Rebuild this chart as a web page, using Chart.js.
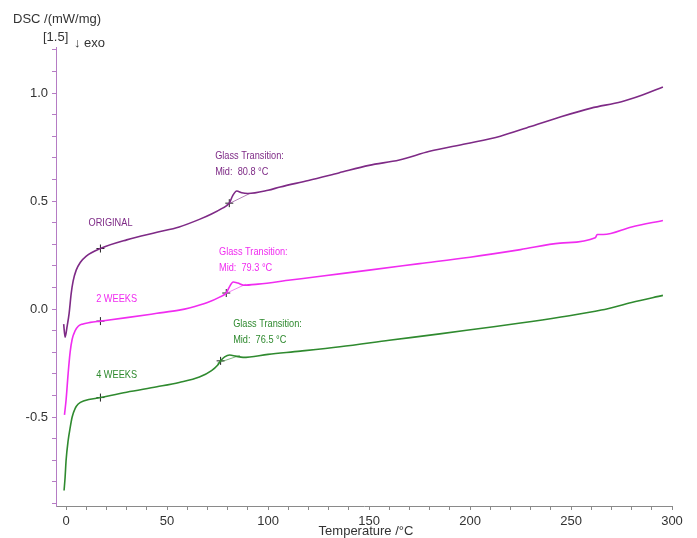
<!DOCTYPE html>
<html>
<head>
<meta charset="utf-8">
<script src="https://cdn.jsdelivr.net/npm/chart.js@4"></script>
<style>
  html, body { margin: 0; padding: 0; background: #fff; }
  #wrap { width: 697px; height: 538px; }
</style>
</head>
<body>
<div id="wrap"><canvas id="dsc" width="697" height="538"></canvas></div>
<script>
// Curvas DSC (temperatura °C / señal mW/mg)
var tempOriginal = [-1.2, -0.5, 0.5, 1.5, 2.5, 3.5, 5, 7, 10, 17, 30, 45, 56, 66, 72, 77, 80.8, 82.5, 84.5, 87, 90, 100, 106, 120, 135, 150, 165, 180, 198, 215, 230, 245, 260, 275, 285, 295.5];
var dscOriginal = [-0.07, -0.13, -0.08, -0.02, 0.07, 0.13, 0.18, 0.215, 0.245, 0.28, 0.32, 0.355, 0.38, 0.415, 0.44, 0.465, 0.49, 0.525, 0.546, 0.538, 0.535, 0.55, 0.565, 0.595, 0.63, 0.665, 0.69, 0.73, 0.765, 0.80, 0.845, 0.89, 0.93, 0.96, 0.99, 1.028];

var temp2Weeks = [-0.8, 0, 1, 2, 3, 4.5, 6, 8, 12, 17, 30, 45, 56, 61, 70, 76, 79.3, 81, 82.7, 85, 88, 95, 111, 127, 150, 175, 200, 225, 244.6, 262, 263, 266, 280, 295.5];
var dsc2Weeks = [-0.49, -0.42, -0.3, -0.2, -0.14, -0.10, -0.08, -0.07, -0.062, -0.056, -0.04, -0.02, -0.005, 0.005, 0.03, 0.055, 0.074, 0.105, 0.125, 0.12, 0.11, 0.115, 0.134, 0.153, 0.18, 0.21, 0.24, 0.275, 0.305, 0.33, 0.345, 0.345, 0.38, 0.41];

var temp4Weeks = [-1, -0.5, 0, 1, 2, 3, 4.5, 6, 9, 17, 30, 45, 56, 66, 72, 75, 76.5, 78.5, 81, 84, 87.6, 100, 116, 135.6, 160, 185, 205, 225, 245, 265, 280, 295.5];
var dsc4Weeks = [-0.84, -0.78, -0.70, -0.61, -0.55, -0.50, -0.46, -0.44, -0.425, -0.41, -0.385, -0.36, -0.34, -0.315, -0.285, -0.26, -0.24, -0.222, -0.213, -0.218, -0.224, -0.21, -0.195, -0.175, -0.145, -0.115, -0.09, -0.065, -0.037, -0.005, 0.03, 0.063];

// Marcas "+" (inicio de evaluación y punto medio de la transición vítrea)
var marcasTemp = [17, 80.8, 17, 79.3, 17, 76.5];
var marcasDsc = [0.28, 0.49, -0.056, 0.074, -0.41, -0.24];

// Tangentes finas de la evaluación de Tg (inicio y fin de cada segmento)
var tangTemp = [[79, 91], [77.5, 89], [75, 86]];
var tangDsc = [[0.48, 0.535], [0.065, 0.115], [-0.25, -0.215]];

var tgValores = ["80.8", "79.3", "76.5"];
var nombresCurvas = ["ORIGINAL", "2 WEEKS", "4 WEEKS"];
var colores = ["#7e2a86", "#f02cf0", "#2f8a2f"];

// Posición de los textos en coordenadas de datos [temp, dsc]
var posNombres = [[22, 0.40], [25, 0.046], [25, -0.305]];
var posTg = [[73.8, 0.71], [75.7, 0.265], [82.7, -0.068]];

function puntos(xs, ys) {
  return xs.map(function (x, i) { return { x: x, y: ys[i] }; });
}

function curva(xs, ys, color) {
  return {
    type: "line",
    data: puntos(xs, ys),
    borderColor: color,
    borderWidth: 1.6,
    pointRadius: 0,
    cubicInterpolationMode: "monotone",
    fill: false,
  };
}

function tangente(i) {
  return {
    type: "line",
    data: puntos(tangTemp[i], tangDsc[i]),
    borderColor: colores[i],
    borderWidth: 0.6,
    pointRadius: 0,
    fill: false,
  };
}

// Texto estrecho (tipo Arial Narrow) mediante escala horizontal
function textoEstrecho(ctx, txt, x, y, align) {
  ctx.save();
  ctx.translate(x, y);
  ctx.scale(0.8, 1);
  ctx.textAlign = align;
  ctx.fillText(txt, 0, 0);
  ctx.restore();
}

// Textos de ejes y anotaciones
const textos = {
  id: "textos",
  afterDraw: function (chart) {
    const ctx = chart.ctx;
    const xs = chart.scales.x;
    const ys = chart.scales.y;
    ctx.save();
    ctx.fillStyle = "#333";
    ctx.font = "13px 'Liberation Sans', Arial, sans-serif";
    ctx.textBaseline = "middle";
    ctx.textAlign = "left";
    ctx.fillText("DSC /(mW/mg)", 13, 19);
    ctx.fillText("[1.5]", 43, 37);
    ctx.fillText("\u2193 exo", 74, 43);
    ctx.textAlign = "center";
    ctx.fillText("Temperature /\u00B0C", 366, 531);

    ctx.font = "11.5px 'Liberation Sans', Arial, sans-serif";
    for (let i = 0; i < 3; i++) {
      ctx.fillStyle = colores[i];
      textoEstrecho(ctx, nombresCurvas[i], xs.getPixelForValue(posNombres[i][0]), ys.getPixelForValue(posNombres[i][1]), "center");
      const px = xs.getPixelForValue(posTg[i][0]);
      const py = ys.getPixelForValue(posTg[i][1]);
      textoEstrecho(ctx, "Glass Transition:", px, py, "left");
      textoEstrecho(ctx, "Mid:  " + tgValores[i] + " \u00B0C", px, py + 16, "left");
    }
    ctx.restore();
  },
};

const ctx = document.getElementById("dsc").getContext("2d");
const grafico = new Chart(ctx, {
  data: {
    datasets: [
      tangente(0),
      tangente(1),
      tangente(2),
      curva(tempOriginal, dscOriginal, colores[0]),
      curva(temp2Weeks, dsc2Weeks, colores[1]),
      curva(temp4Weeks, dsc4Weeks, colores[2]),
      {
        type: "scatter",
        data: puntos(marcasTemp, marcasDsc),
        pointStyle: "cross",
        pointRadius: 4,
        borderColor: "#222",
        borderWidth: 1,
      },
    ],
  },
  options: {
    responsive: false,
    animation: false,
    layout: { padding: { top: 47, right: 25, left: 0, bottom: 0 } },
    plugins: { legend: { display: false }, tooltip: { enabled: false } },
    scales: {
      x: {
        type: "linear",
        min: -5,
        max: 300,
        afterFit: function (s) { s.height = 32; },
        border: { display: true, color: "#8a8a8a", width: 1 },
        grid: { drawOnChartArea: false, drawTicks: true, tickLength: 4, color: "#8a8a8a" },
        ticks: {
          stepSize: 10,
          includeBounds: false,
          autoSkip: false,
          maxRotation: 0,
          padding: 4,
          color: "#333",
          font: { family: "'Liberation Sans', Arial, sans-serif", size: 13 },
          callback: function (v) { return v % 50 === 0 ? String(v) : ""; },
        },
      },
      y: {
        type: "linear",
        min: -0.912,
        max: 1.213,
        afterFit: function (s) { s.width = 56; },
        border: { display: true, color: "#b57cc4", width: 1 },
        grid: { drawOnChartArea: false, drawTicks: true, tickLength: 4, color: "#b57cc4" },
        ticks: {
          stepSize: 0.1,
          includeBounds: false,
          autoSkip: false,
          padding: 4,
          color: "#333",
          font: { family: "'Liberation Sans', Arial, sans-serif", size: 13 },
          callback: function (v) {
            const d = v * 2;
            return Math.abs(d - Math.round(d)) < 1e-6 ? v.toFixed(1) : "";
          },
        },
      },
    },
  },
  plugins: [textos],
});
</script>
</body>
</html>
